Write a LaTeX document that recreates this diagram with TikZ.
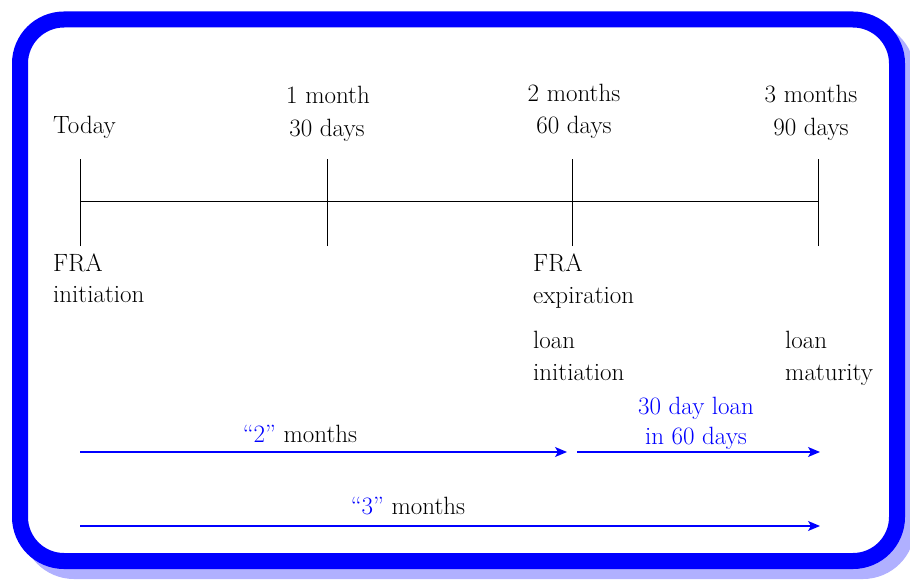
\documentclass[tikz,border=0pt]{standalone}
\usetikzlibrary{arrows.meta}
\definecolor{shadowblue}{RGB}{176,176,255}
\begin{document}
\begin{tikzpicture}[x=1pt,y=-1pt,
  txt/.style={inner sep=0pt, font=\fontsize{25}{30}\selectfont},
  tick/.style={line width=1pt, black},
  barrow/.style={line width=1.3pt, blue, -{Stealth[length=12pt,width=10pt,inset=3pt]}},
  frame/.style={line width=16pt, rounded corners=44pt}]
\useasboundingbox (0,0) rectangle (910,580);
% frame with shadow
\draw[frame, shadowblue] (30,29.5) rectangle (907,571);
\draw[frame, blue, fill=white] (20,19.5) rectangle (897,561);
% timeline
\coordinate (t0) at (80,202);
\coordinate (t1) at (327,202);
\coordinate (t2) at (572,202);
\coordinate (t3) at (818,202);
\draw[tick] (t0) -- (t3);
\foreach \p in {t0,t1,t2,t3}{
  \draw[tick] ([yshift=-44pt]\p) -- ([yshift=43pt]\p);
}
% labels above
\node[txt, anchor=base west] (today) at (53,134) {Today};
\node[txt, anchor=base] (m1a) at (328,104) {1 month};
\node[txt, anchor=base] (m1b) at (327,136.5) {30 days};
\node[txt, anchor=base] (m2a) at (574,102) {2 months};
\node[txt, anchor=base] (m2b) at (574,134) {60 days};
\node[txt, anchor=base] (m3a) at (811,103) {3 months};
\node[txt, anchor=base] (m3b) at (811,135.5) {90 days};
% labels below
\node[txt, anchor=base west] (fa) at (53,271.7) {FRA};
\node[txt, anchor=base west] (fb) at (53,302) {initiation};
\node[txt, anchor=base west] (ea) at (533,271.7) {FRA};
\node[txt, anchor=base west] (eb) at (533,303) {expiration};
\node[txt, anchor=base west] (la) at (533,348) {loan};
\node[txt, anchor=base west] (lb) at (533,380) {initiation};
\node[txt, anchor=base west] (ma) at (785,348) {loan};
\node[txt, anchor=base west] (mb) at (785,380) {maturity};
% arrows
\coordinate (a1s) at (80,452);
\coordinate (a1e) at (567,452);
\coordinate (a2s) at (577,452);
\coordinate (a2e) at (820,452);
\coordinate (a3s) at (80,526);
\coordinate (a3e) at (820,526);
\draw[barrow] (a1s) -- (a1e);
\draw[barrow] (a2s) -- (a2e);
\draw[barrow] (a3s) -- (a3e);
\node[txt, anchor=base] (l2) at (300,442) {\textcolor{blue}{“2”} months};
\node[txt, anchor=base, text=blue] (l30a) at (696,414) {30 day loan};
\node[txt, anchor=base, text=blue] (l30b) at (696,444) {in 60 days};
\node[txt, anchor=base] (l3) at (408,514) {\textcolor{blue}{“3”} months};
\end{tikzpicture}
\end{document}
